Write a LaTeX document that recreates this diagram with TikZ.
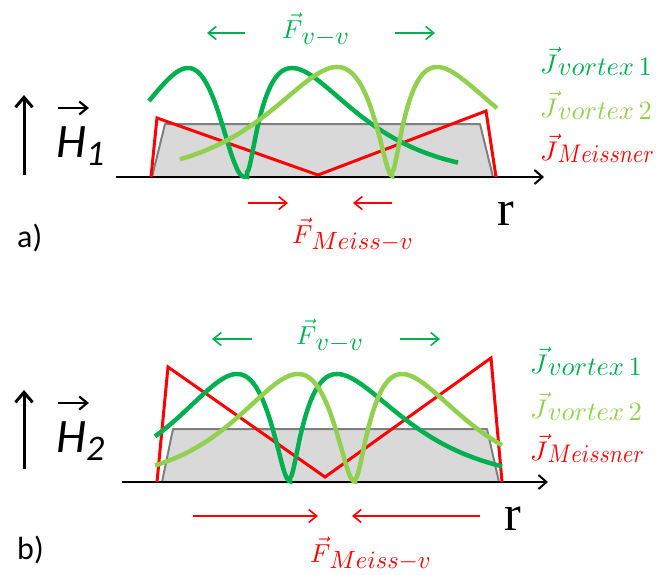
\documentclass[tikz,border=0pt]{standalone}
\usepackage{fontspec}
\usepackage{graphicx}
\usetikzlibrary{arrows.meta}
\newfontfamily\carlito{Carlito}
\newfontfamily\tnr{Liberation Serif}
\definecolor{dkgreen}{HTML}{00B050}
\definecolor{ltgreen}{HTML}{92D050}
\definecolor{mred}{HTML}{FF0000}
\definecolor{sfill}{HTML}{D9D9D9}
\definecolor{sline}{HTML}{7F7F7F}
% #1 main scale, #2 letter, #3 sub x-scale, #4 sub y-scale, #5 sub, #6 kern, #7 lowering
\newcommand\veclab[7]{\scalebox{#1}{$\vec{#2}$}\kern#6\raisebox{-#7}{\scalebox{#3}[#4]{$#5$}}}
\begin{document}
\begin{tikzpicture}[x=1pt,y=-1pt,font=\fontsize{10}{10}\selectfont,
  declare function={sd(\qt)=10*sqrt((\qt/10)*(\qt/10)+0.36)-5.7;
    gg(\qt,\qa,\qb)=exp(\qb*(ln(sd(\qt)/\qa)+1-sd(\qt)/\qa));},
  axisarrow/.style={line width=2pt,-{Straight Barb[length=8pt,width=14pt]}},
  harrow/.style={line width=3pt,-{Straight Barb[length=10pt,width=17pt]}},
  hvec/.style={line width=2.2pt,-{Straight Barb[length=8pt,width=13pt]}},
  frc/.style={line width=1.6pt,-{Straight Barb[length=8pt,width=13pt]}},
  sample/.style={fill=sfill,draw=sline,line width=2pt,line join=round},
  meiss/.style={draw=mred,line width=3pt},
  vt1/.style={draw=dkgreen,line width=4.5pt},
  vt2/.style={draw=ltgreen,line width=4.5pt},
  lab/.style={anchor=base west,inner sep=0pt},
  hlab/.style={lab,font=\carlito\itshape\fontsize{48}{48}\selectfont},
  plab/.style={lab,font=\carlito\fontsize{32}{32}\selectfont},
  rlab/.style={lab,font=\tnr\fontsize{50}{50}\selectfont}]
\useasboundingbox (0,0) rectangle (661,574);
% ================= panel a =================
\coordinate (a-hs) at (24,175); \coordinate (a-he) at (24,95);
\draw[harrow] (a-hs) -- (a-he);
\node[hlab] (a-h) at (56,157) {H\raisebox{-8pt}{\fontsize{36}{36}\selectfont 1}};
\coordinate (a-vs) at (58,108); \coordinate (a-ve) at (89,108);
\draw[hvec] (a-vs) -- (a-ve);
\node[plab] (a-lab) at (17,247) {a)};
\node[rlab] (a-r) at (497,225) {r};
\filldraw[sample] (152,177) -- (165,124) -- (480,124) -- (493,177) -- cycle;
\coordinate (a-axs) at (116,177); \coordinate (a-axe) at (544,177);
\draw[axisarrow] (a-axs) -- (a-axe);
\draw[meiss] (151,177) -- (157,118) -- (318,175) -- (486,111) -- (496,177);
\draw[vt1] plot[domain=149:247,samples=90] (\x,{177-109*gg(247-\x,53.6,2)})
  -- plot[domain=247:458,samples=150] (\x,{177-109*gg(\x-247,39.7,0.8)});
\draw[vt2] plot[domain=180:392,samples=150] (\x,{177-110*gg(392-\x,49.6,1.05)})
  -- plot[domain=392:497,samples=90] (\x,{177-110*gg(\x-392,39.7,0.8)});
\node[lab,text=dkgreen] (a-fvv) at (282,38) {\veclab{2.6}{F}{2.6}{2.6}{v{-}v}{-1pt}{6pt}};
\coordinate (a-g1s) at (245,33); \coordinate (a-g1e) at (207,33);
\coordinate (a-g2s) at (395,33); \coordinate (a-g2e) at (435,33);
\draw[frc,dkgreen] (a-g1s) -- (a-g1e);
\draw[frc,dkgreen] (a-g2s) -- (a-g2e);
\coordinate (a-r1s) at (248,203); \coordinate (a-r1e) at (288,203);
\coordinate (a-r2s) at (392,203); \coordinate (a-r2e) at (353,203);
\draw[frc,mred] (a-r1s) -- (a-r1e);
\draw[frc,mred] (a-r2s) -- (a-r2e);
\node[lab,text=mred] (a-fmv) at (292,243) {\veclab{2.6}{F}{2.45}{2.5}{Meiss{-}v}{-1pt}{6pt}};
\node[lab,text=dkgreen] (a-j1) at (540,73) {\veclab{2.7}{J}{2.65}{2.65}{vortex\,1}{0pt}{2pt}};
\node[lab,text=ltgreen] (a-j2) at (540,117) {\veclab{2.7}{J}{2.65}{2.65}{vortex\,2}{0pt}{2pt}};
\node[lab,text=mred] (a-jm) at (540,160) {\veclab{2.7}{J}{2.2}{2.55}{Meissner}{0pt}{2pt}};
% ================= panel b =================
\coordinate (b-hs) at (24,469); \coordinate (b-he) at (24,390);
\draw[harrow] (b-hs) -- (b-he);
\node[hlab] (b-h) at (56,452) {H\raisebox{-8pt}{\fontsize{36}{36}\selectfont 2}};
\coordinate (b-vs) at (58,403); \coordinate (b-ve) at (89,403);
\draw[hvec] (b-vs) -- (b-ve);
\node[plab] (b-lab) at (17,559) {b)};
\node[rlab] (b-r) at (504,530) {r};
\filldraw[sample] (162,482) -- (173,429) -- (487,429) -- (499,482) -- cycle;
\coordinate (b-axs) at (122,482); \coordinate (b-axe) at (548,482);
\draw[axisarrow] (b-axs) -- (b-axe);
\draw[meiss] (157,482) -- (168,367) -- (325,477) -- (491,358) -- (502,482);
\draw[vt1] plot[domain=155:290,samples=110] (\x,{482-108*gg(290-\x,47.6,1.2)})
  -- plot[domain=290:502,samples=150] (\x,{482-108*gg(\x-290,41.7,0.82)});
\draw[vt2] plot[domain=155:355,samples=140] (\x,{482-108*gg(355-\x,51.6,1.3)})
  -- plot[domain=355:502,samples=110] (\x,{482-108*gg(\x-355,41.7,0.92)});
\node[lab,text=dkgreen] (b-fvv) at (296,344) {\veclab{2.6}{F}{2.6}{2.6}{v{-}v}{-1pt}{6pt}};
\coordinate (b-g1s) at (252,339); \coordinate (b-g1e) at (212,339);
\coordinate (b-g2s) at (400,339); \coordinate (b-g2e) at (440,339);
\draw[frc,dkgreen] (b-g1s) -- (b-g1e);
\draw[frc,dkgreen] (b-g2s) -- (b-g2e);
\coordinate (b-r1s) at (193,516); \coordinate (b-r1e) at (318,516);
\coordinate (b-r2s) at (480,516); \coordinate (b-r2e) at (352,516);
\draw[frc,mred] (b-r1s) -- (b-r1e);
\draw[frc,mred] (b-r2s) -- (b-r2e);
\node[lab,text=mred] (b-fmv) at (310,562) {\veclab{2.6}{F}{2.45}{2.5}{Meiss{-}v}{-1pt}{6pt}};
\node[lab,text=dkgreen] (b-j1) at (530,373) {\veclab{2.7}{J}{2.65}{2.65}{vortex\,1}{0pt}{2pt}};
\node[lab,text=ltgreen] (b-j2) at (530,418) {\veclab{2.7}{J}{2.65}{2.65}{vortex\,2}{0pt}{2pt}};
\node[lab,text=mred] (b-jm) at (530,460) {\veclab{2.7}{J}{2.2}{2.55}{Meissner}{0pt}{2pt}};
\end{tikzpicture}
\end{document}
